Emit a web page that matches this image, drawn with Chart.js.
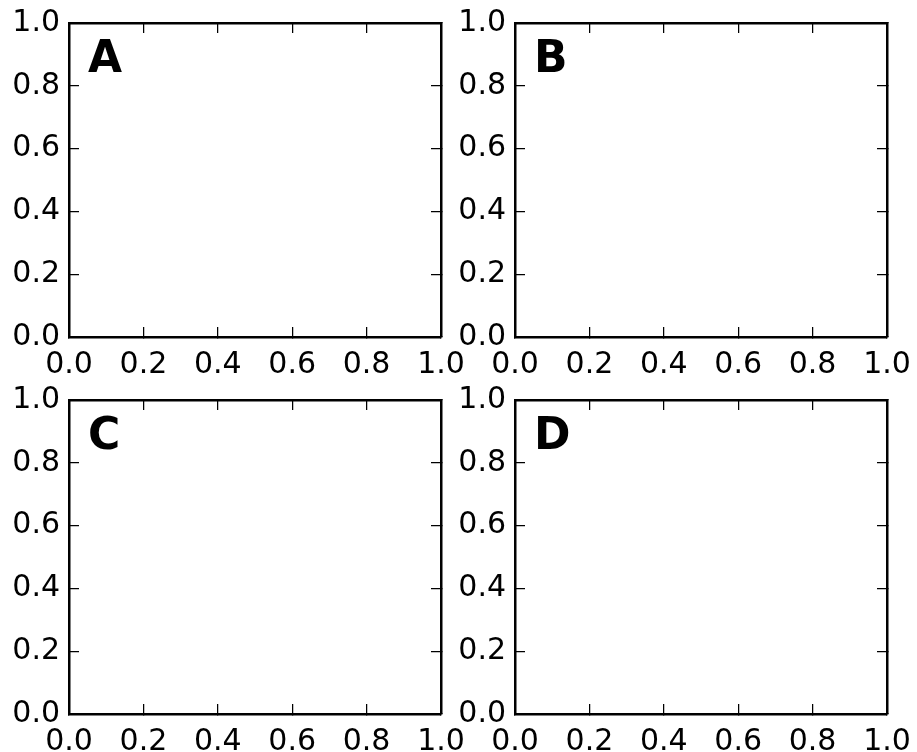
<!DOCTYPE html>
<html>
<head>
<meta charset="utf-8">
<script src="https://cdn.jsdelivr.net/npm/chart.js@4.4.1/dist/chart.umd.min.js"></script>
<style>
  body { margin: 0; background: #fff; overflow: hidden; width: 917px; height: 752px; position: relative; }
  canvas { position: absolute; }
</style>
</head>
<body>
<script>
// panels are empty axes, only the frame, ticks and letters
const panelLabels = ["A", "B", "C", "D"];
const panelData = [[], [], [], []];
const tickValues = [0, 0.2, 0.4, 0.6, 0.8, 1.0];
const tickLabels = ["0.0", "0.2", "0.4", "0.6", "0.8", "1.0"];

// plot area corners on the page
const areaLeft = [69, 515, 69, 515];
const areaTop = [23, 23, 400, 400];
const yAxisWidth = 69;
const xAxisHeight = 38;
const canvasW = 470;
const canvasH = 375;

Chart.defaults.font.family = "'DejaVu Sans', sans-serif";
Chart.defaults.font.size = 30;
Chart.defaults.color = "#000";

const setTicks = (scale) => {
  scale.ticks = tickValues.map((v) => ({ value: v }));
};

const axis = (position, showLabels) => ({
  type: "linear",
  position: position,
  min: 0,
  max: 1,
  afterBuildTicks: setTicks,
  afterFit: (s) => {
    if (s.isHorizontal()) s.height = showLabels ? xAxisHeight : 0;
    else s.width = showLabels ? yAxisWidth : 0;
    // label overhang is handled by the layout padding below
    s.paddingTop = s.paddingBottom = s.paddingLeft = s.paddingRight = 0;
  },
  border: { display: true, color: "#000", width: 2.5 },
  grid: { drawOnChartArea: false, drawTicks: true, tickLength: -10, color: "#000", lineWidth: 1.25 },
  ticks: {
    display: showLabels,
    padding: position === "bottom" ? 20 : 19,
    autoSkip: false,
    maxRotation: 0,
    color: "#000",
    callback: (v, i) => tickLabels[i],
  },
});

const panelLabelPlugin = {
  id: "panelLabel",
  afterDraw(chart, args, opts) {
    const { ctx, chartArea } = chart;
    ctx.save();
    ctx.font = "bold 44px 'DejaVu Sans'";
    ctx.fillStyle = "#000";
    ctx.textBaseline = "alphabetic";
    ctx.fillText(opts.text, chartArea.left + 19, chartArea.top + 49);
    ctx.restore();
  },
};

panelLabels.forEach((label, i) => {
  const canvas = document.createElement("canvas");
  canvas.width = canvasW;
  canvas.height = canvasH;
  canvas.style.left = (areaLeft[i] - yAxisWidth) + "px";
  canvas.style.top = (areaTop[i] - 23) + "px";
  document.body.append(canvas);

  new Chart(canvas, {
    type: "scatter",
    data: { datasets: [{ data: panelData[i] }] },
    options: {
      responsive: false,
      animation: false,
      layout: { padding: { top: 23, right: canvasW - yAxisWidth - 372, left: 0, bottom: 0 } },
      plugins: {
        legend: { display: false },
        tooltip: { enabled: false },
        panelLabel: { text: label },
      },
      scales: {
        x: axis("bottom", true),
        x2: axis("top", false),
        y: axis("left", true),
        y2: axis("right", false),
      },
    },
    plugins: [panelLabelPlugin],
  });
});
</script>
</body>
</html>
